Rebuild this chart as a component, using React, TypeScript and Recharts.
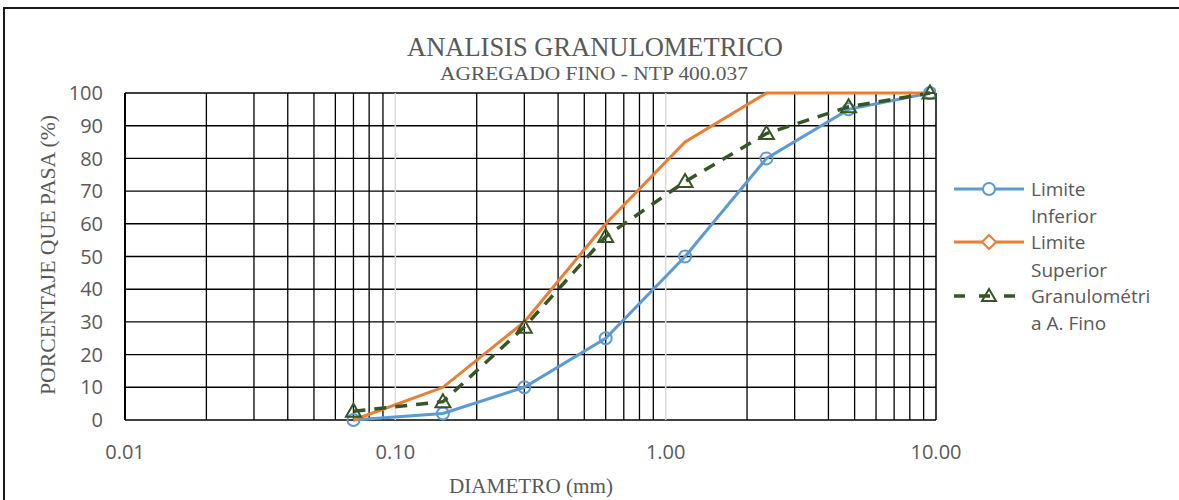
import React from 'react';
import { LineChart, Line, XAxis, YAxis, CartesianGrid, ReferenceLine } from 'recharts';

// tamices (mm) y porcentajes que pasan
const diametros = [0.07, 0.15, 0.3, 0.6, 1.18, 2.36, 4.75, 9.5];
const limiteInferior = [0, 2, 10, 25, 50, 80, 95, 100];
const limiteSuperior = [0, 10, 30, 60, 85, 100, 100, 100];
const granulometria = [2.7, 5.6, 28.4, 56.1, 72.9, 87.6, 95.8, 100];

const xTicks = [0.01, 0.1, 1, 10];
const yTicks = [0, 10, 20, 30, 40, 50, 60, 70, 80, 90, 100];
const minorX = [
  0.02, 0.03, 0.04, 0.05, 0.06, 0.07, 0.08, 0.09,
  0.2, 0.3, 0.4, 0.5, 0.6, 0.7, 0.8, 0.9,
  2, 3, 4, 5, 6, 7, 8, 9,
];
const majorX = [0.1, 1];

const seriesNames = ['Limite Inferior', 'Limite Superior', 'Granulométria A. Fino'];
const legendLines = [['Limite', 'Inferior'], ['Limite', 'Superior'], ['Granulométri', 'a A. Fino']];

const data = diametros.map((d, i) => ({
  d,
  inf: limiteInferior[i],
  sup: limiteSuperior[i],
  gra: granulometria[i],
}));

const BLUE = '#5B9BD5';
const ORANGE = '#ED7D31';
const GREEN = '#375623';
const TEXT = '#595959';
const SANS = '"Open Sans", sans-serif';
const SERIF = '"Liberation Serif", serif';

const Triangle = (props: any) => {
  const { cx, cy } = props;
  if (cx == null || cy == null) return null;
  return (
    <path
      d={`M${cx},${cy - 7.5} L${cx - 7.5},${cy + 5.5} L${cx + 7.5},${cy + 5.5} Z`}
      fill="none"
      stroke={GREEN}
      strokeWidth={2}
    />
  );
};

const LegendItem = ({ idx, y, y2 }: { idx: number; y: number; y2: number }) => {
  const color = [BLUE, ORANGE, GREEN][idx];
  const rows = [y, y2];
  return (
    <>
      <svg style={{ position: 'absolute', left: 952, top: y - 10, width: 74, height: 20 }}>
        {idx === 2 ? (
          <>
            <line x1={2} y1={10} x2={72} y2={10} stroke={color} strokeWidth={3.5} strokeDasharray="11 14" />
            <path d="M37,3 L30,15 L44,15 Z" fill="none" stroke={color} strokeWidth={2} />
          </>
        ) : (
          <>
            <line x1={2} y1={10} x2={72} y2={10} stroke={color} strokeWidth={3} />
            {idx === 0 ? (
              <circle cx={37} cy={10} r={6} fill="#fff" stroke={color} strokeWidth={2} />
            ) : (
              <path d="M37,3 L44,10 L37,17 L30,10 Z" fill="#fff" stroke={color} strokeWidth={2} />
            )}
          </>
        )}
      </svg>
      {legendLines[idx].map((t, k) => (
        <div
          key={t}
          title={k === 0 ? seriesNames[idx] : undefined}
          style={{
            position: 'absolute',
            left: 1031,
            top: rows[k] - 10,
            fontFamily: SANS,
            fontSize: 19,
            lineHeight: '20px',
            color: TEXT,
            whiteSpace: 'nowrap',
          }}
        >
          {t}
        </div>
      ))}
    </>
  );
};

export default function App() {
  return (
    <div style={{ width: 1163, height: 484 }}>
      <div
        style={{
          position: 'fixed',
          left: 0,
          top: 0,
          width: 1179,
          height: 500,
          overflow: 'hidden',
          background: '#fff',
        }}
      >
        <div style={{ position: 'absolute', left: 0, top: 0 }}>
          <LineChart
            width={1179}
            height={500}
            data={data}
            margin={{ top: 93, right: 243, left: 65, bottom: 50 }}
          >
            <CartesianGrid horizontal vertical={false} stroke="#000" strokeWidth={1.4} />
            {majorX.map((v) => (
              <ReferenceLine key={'M' + v} x={v} stroke="#d9d9d9" strokeWidth={1.5} />
            ))}
            {minorX.map((v) => (
              <ReferenceLine key={'m' + v} x={v} stroke="#000" strokeWidth={1.3} />
            ))}
            <ReferenceLine x={0.01} stroke="#000" strokeWidth={2} />
            <ReferenceLine x={10} stroke="#000" strokeWidth={1.5} />
            <XAxis
              dataKey="d"
              type="number"
              scale="log"
              domain={[0.01, 10]}
              ticks={xTicks}
              allowDataOverflow
              tickFormatter={(v: number) => v.toFixed(2)}
              axisLine={false}
              tickLine={false}
              tickSize={0}
              tickMargin={25}
              height={30}
              tick={{ fill: TEXT, fontSize: 20, fontFamily: SANS }}
            />
            <YAxis
              type="number"
              domain={[0, 100]}
              ticks={yTicks}
              axisLine={false}
              tickLine={false}
              tickSize={0}
              tickMargin={22}
              width={60}
              tick={{ fill: TEXT, fontSize: 20, fontFamily: SANS }}
            />
            <Line
              name={seriesNames[0]}
              dataKey="inf"
              type="linear"
              stroke={BLUE}
              strokeWidth={3}
              dot={{ r: 6, stroke: BLUE, strokeWidth: 2, fill: 'none' }}
              isAnimationActive={false}
            />
            <Line
              name={seriesNames[1]}
              dataKey="sup"
              type="linear"
              stroke={ORANGE}
              strokeWidth={3}
              dot={false}
              isAnimationActive={false}
            />
            <Line
              name={seriesNames[2]}
              dataKey="gra"
              type="linear"
              stroke={GREEN}
              strokeWidth={3.5}
              strokeDasharray="12 9"
              dot={<Triangle />}
              isAnimationActive={false}
            />
          </LineChart>
        </div>
        {/* marco exterior */}
        <div style={{ position: 'absolute', left: 3, top: 7, width: 1176, height: 2, background: '#1a1a1a' }} />
        <div style={{ position: 'absolute', left: 3, top: 7, width: 2, height: 493, background: '#1a1a1a' }} />
        <svg
          style={{ position: 'absolute', left: 0, top: 0, pointerEvents: 'none' }}
          width={1179}
          height={500}
        >
          <text x={595} y={56} textAnchor="middle" fontFamily={SERIF} fontSize={28} fill={TEXT} textLength={376} lengthAdjust="spacingAndGlyphs">
            ANALISIS GRANULOMETRICO
          </text>
          <text x={594} y={80} textAnchor="middle" fontFamily={SERIF} fontSize={19} fill={TEXT} textLength={308} lengthAdjust="spacingAndGlyphs">
            AGREGADO FINO - NTP 400.037
          </text>
          <text x={531} y={493} textAnchor="middle" fontFamily={SERIF} fontSize={20} fill={TEXT} textLength={164} lengthAdjust="spacingAndGlyphs">
            DIAMETRO (mm)
          </text>
          <text
            x={0}
            y={0}
            transform="translate(55,255) rotate(-90)"
            textAnchor="middle"
            fontFamily={SERIF}
            fontSize={20}
            fill={TEXT}
            textLength={280}
            lengthAdjust="spacingAndGlyphs"
          >
            PORCENTAJE QUE PASA (%)
          </text>
        </svg>
        <LegendItem idx={0} y={189} y2={216} />
        <LegendItem idx={1} y={242} y2={270} />
        <LegendItem idx={2} y={296} y2={323} />
      </div>
    </div>
  );
}
